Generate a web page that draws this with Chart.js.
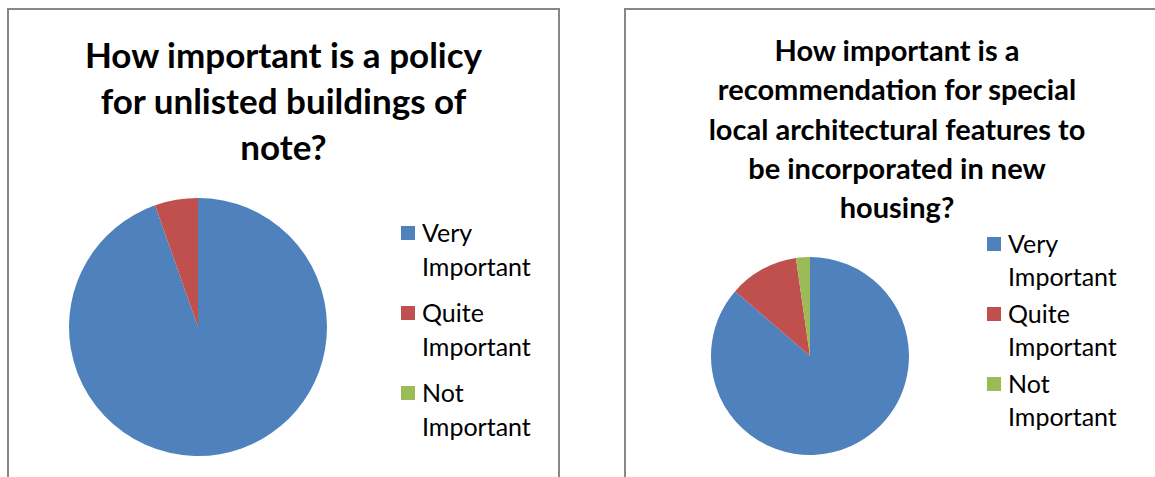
<!DOCTYPE html>
<html>
<head>
<meta charset="utf-8">
<script src="https://cdn.jsdelivr.net/npm/chart.js@4"></script>
<style>
    body { margin: 0; background: #fff; font-family: Lato, "Open Sans", sans-serif; color: #000; }
    .panel { position: absolute; top: 8px; height: 530px; border: 2px solid #878787; box-sizing: border-box; }
    #panel1 { left: 7px; width: 553px; }
    #panel2 { left: 624px; width: 560px; }
    .title { position: absolute; text-align: center; font-weight: bold; }
    #title1 { left: 7px; width: 553px; top: 31px; font-size: 35px; line-height: 46px; }
    #title2 { left: 624px; width: 546px; top: 30px; font-size: 29px; line-height: 39.3px; }
    canvas { position: absolute; }
    #pie1 { left: 69px; top: 198px; }
    #pie2 { left: 711px; top: 257px; }
    .legend { position: absolute; font-size: 25px; }
    .legend .item { position: relative; padding-left: 21px; width: 125px; }
    .legend .box { position: absolute; left: 0; width: 14px; height: 14px; }
    #legend1 { left: 401px; top: 215px; line-height: 34px; }
    #legend1 .item { margin-bottom: 12px; }
    #legend1 .box { top: 11px; }
    #legend2 { left: 987px; top: 227px; line-height: 33px; }
    #legend2 .item { margin-bottom: 4px; }
    #legend2 .box { top: 10px; }
</style>
</head>
<body>
<div class="panel" id="panel1"></div>
<div class="panel" id="panel2"></div>
<div class="title" id="title1">How important is a policy<br>for unlisted buildings of<br>note?</div>
<div class="title" id="title2">How important is a<br>recommendation for special<br>local architectural features to<br>be incorporated in new<br>housing?</div>
<canvas id="pie1" width="258" height="258"></canvas>
<canvas id="pie2" width="198" height="198"></canvas>
<div class="legend" id="legend1"></div>
<div class="legend" id="legend2"></div>

<script>
const categories = ['Very Important', 'Quite Important', 'Not Important'];
const unlistedVotes = [35, 2, 0];
const featuresVotes = [38, 5, 1];
const colours = ['#4F81BD', '#C0504D', '#9BBB59'];

function makePie(id, values) {
    new Chart(document.getElementById(id), {
        type: 'pie',
        data: {
            labels: categories,
            datasets: [{
                data: values,
                backgroundColor: colours,
                borderWidth: 0
            }]
        },
        options: {
            responsive: false,
            animation: false,
            layout: { padding: 0 },
            plugins: {
                legend: { display: false },
                tooltip: { enabled: false }
            }
        }
    });
}

// legend sits to the right of each pie, labels wrap onto two lines
function makeLegend(id) {
    const el = document.getElementById(id);
    categories.forEach(function (name, i) {
        const item = document.createElement('div');
        item.className = 'item';
        const box = document.createElement('span');
        box.className = 'box';
        box.style.background = colours[i];
        item.appendChild(box);
        item.appendChild(document.createTextNode(name));
        el.appendChild(item);
    });
}

makePie('pie1', unlistedVotes);
makePie('pie2', featuresVotes);
makeLegend('legend1');
makeLegend('legend2');
</script>
</body>
</html>
